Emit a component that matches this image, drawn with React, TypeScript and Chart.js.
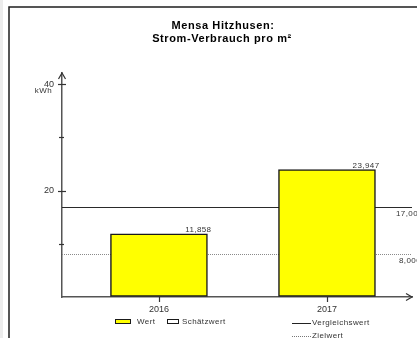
import React, { useEffect, useRef } from 'react';
import { Chart, registerables } from 'chart.js';
Chart.register(...registerables);

const categories = ['2016', '2017'];
const wertValues = [11.858, 23.947];
const valueLabels = ['11,858', '23,947'];
const refValues = [17, 8];
const refLabels = ['17,000', '8,000'];
const yTickValues = [0, 10, 20, 30, 40];
const yTickLabels = ['', '', '20', '', '40'];
const yUnit = 'kWh';
const titleLines = ['Mensa Hitzhusen:', 'Strom-Verbrauch pro m²'];
const legendLabels = ['Wert', 'Schätzwert', 'Vergleichswert', 'Zielwert'];

const FONT = '"Liberation Sans", Arial, sans-serif';

const decorPlugin = {
  id: 'decor',
  beforeDraw(chart: any) {
    const ctx = chart.ctx as CanvasRenderingContext2D;
    ctx.save();
    ctx.fillStyle = '#ffffff';
    ctx.fillRect(0, 0, chart.width, chart.height);
    ctx.fillStyle = '#ececec';
    ctx.fillRect(0, 0, 3, chart.height);
    ctx.strokeStyle = '#1e1e1e';
    ctx.lineWidth = 1.5;
    ctx.beginPath();
    ctx.moveTo(9, chart.height);
    ctx.lineTo(9, 7);
    ctx.lineTo(chart.width, 7);
    ctx.stroke();
    // title
    ctx.fillStyle = '#000';
    ctx.font = `bold 11px ${FONT}`;
    (ctx as any).letterSpacing = '0.6px';
    ctx.textAlign = 'center';
    ctx.textBaseline = 'alphabetic';
    ctx.fillText(titleLines[0], 223, 28.5);
    ctx.fillText(titleLines[1], 222, 42);
    ctx.restore();
  },
  beforeDatasetsDraw(chart: any) {
    const ctx = chart.ctx as CanvasRenderingContext2D;
    const y = chart.scales.y;
    const area = chart.chartArea;
    ctx.save();
    refValues.forEach((v, i) => {
      const py = Math.round(y.getPixelForValue(v)) + 0.5;
      ctx.beginPath();
      if (i === 0) {
        ctx.strokeStyle = '#2a2a2a';
        ctx.lineWidth = 1.2;
        ctx.setLineDash([]);
      } else {
        ctx.strokeStyle = '#8a8a8a';
        ctx.lineWidth = 1;
        ctx.setLineDash([1, 1]);
      }
      ctx.moveTo(area.left, py);
      ctx.lineTo(area.right, py);
      ctx.stroke();
      ctx.setLineDash([]);
      ctx.fillStyle = '#333';
      ctx.font = `8px ${FONT}`;
      (ctx as any).letterSpacing = '0.4px';
      ctx.textAlign = 'left';
      ctx.textBaseline = 'middle';
      ctx.fillText(refLabels[i], i === 0 ? 396 : 399, py + 6);
    });
    ctx.restore();
  },
  afterDatasetsDraw(chart: any) {
    const ctx = chart.ctx as CanvasRenderingContext2D;
    const ys = chart.scales.y;
    const xs = chart.scales.x;
    const area = chart.chartArea;
    ctx.save();
    // value labels
    const meta = chart.getDatasetMeta(0);
    ctx.fillStyle = '#333';
    ctx.font = `8px ${FONT}`;
    (ctx as any).letterSpacing = '0.4px';
    ctx.textAlign = 'right';
    ctx.textBaseline = 'alphabetic';
    meta.data.forEach((bar: any, i: number) => {
      ctx.fillText(valueLabels[i], bar.x + bar.width / 2 + 4, bar.y - 2);
    });
    // y ticks
    ctx.strokeStyle = '#333';
    ctx.lineWidth = 1.2;
    yTickValues.forEach((v, i) => {
      if (v === 0) return;
      const py = Math.round(ys.getPixelForValue(v)) + 0.5;
      const major = yTickLabels[i] !== '';
      ctx.beginPath();
      ctx.moveTo(area.left - (major ? 4 : 3), py);
      ctx.lineTo(area.left + (major ? 4 : 2), py);
      ctx.stroke();
    });
    // x ticks
    categories.forEach((_, i) => {
      const px = Math.round(xs.getPixelForValue(i)) + 0.5;
      ctx.beginPath();
      ctx.moveTo(px, area.bottom);
      ctx.lineTo(px, area.bottom + 5);
      ctx.stroke();
    });
    // arrows
    ctx.strokeStyle = '#333';
    ctx.lineWidth = 1.2;
    ctx.beginPath();
    ctx.moveTo(area.left - 3.5, area.top + 6);
    ctx.lineTo(area.left, area.top);
    ctx.lineTo(area.left + 3.5, area.top + 6);
    ctx.stroke();
    ctx.beginPath();
    ctx.moveTo(area.right - 6, area.bottom - 3.5);
    ctx.lineTo(area.right, area.bottom);
    ctx.lineTo(area.right - 6, area.bottom + 3.5);
    ctx.stroke();
    // unit
    ctx.fillStyle = '#333';
    ctx.font = `8px ${FONT}`;
    (ctx as any).letterSpacing = '0.4px';
    ctx.textAlign = 'right';
    ctx.textBaseline = 'middle';
    ctx.fillText(yUnit, 52, ys.getPixelForValue(40) + 7);
    // legend
    ctx.textAlign = 'left';
    ctx.lineWidth = 1;
    ctx.strokeStyle = '#1a1a1a';
    ctx.fillStyle = '#ffff00';
    ctx.fillRect(115.5, 319.5, 15, 4);
    ctx.strokeRect(115.5, 319.5, 15, 4);
    ctx.fillStyle = '#ffffff';
    ctx.fillRect(167.5, 319.5, 11, 4);
    ctx.strokeRect(167.5, 319.5, 11, 4);
    ctx.fillStyle = '#333';
    ctx.fillText(legendLabels[0], 137, 322);
    ctx.fillText(legendLabels[1], 182, 322);
    ctx.strokeStyle = '#222';
    ctx.beginPath();
    ctx.moveTo(292, 323.5);
    ctx.lineTo(311, 323.5);
    ctx.stroke();
    ctx.strokeStyle = '#777';
    ctx.setLineDash([1, 1]);
    ctx.beginPath();
    ctx.moveTo(292, 336.5);
    ctx.lineTo(311, 336.5);
    ctx.stroke();
    ctx.setLineDash([]);
    ctx.fillText(legendLabels[2], 312, 322.5);
    ctx.fillText(legendLabels[3], 312, 336);
    ctx.restore();
  },
};

export default function App() {
  const ref = useRef<HTMLCanvasElement>(null);
  useEffect(() => {
    document.body.style.margin = '0';
    const canvas = ref.current!;
    const chart = new Chart(canvas, {
      type: 'bar',
      data: {
        datasets: [
          {
            label: legendLabels[0],
            data: categories.map((_, i) => ({ x: i, y: wertValues[i] })) as any,
            backgroundColor: '#ffff00',
            borderColor: '#1a1a1a',
            borderWidth: 1.5,
            borderSkipped: false,
            barThickness: 97,
          },
        ],
      },
      options: {
        responsive: false,
        animation: false,
        devicePixelRatio: 1,
        layout: { padding: { left: 0, right: 5, top: 73, bottom: 0 } },
        plugins: {
          legend: { display: false },
          tooltip: { enabled: false },
          title: { display: false },
        },
        scales: {
          x: {
            type: 'linear',
            min: -0.577,
            max: 1.506,
            offset: false,
            afterBuildTicks: (s: any) => {
              s.ticks = categories.map((_, i) => ({ value: i }));
            },
            afterFit: (s: any) => {
              s.height = 41;
            },
            grid: { display: true, drawOnChartArea: false, drawTicks: true, tickLength: 5, color: 'rgba(0,0,0,0)' },
            border: { display: true, color: '#555', width: 1.5 },
            ticks: {
              callback: (v: any) => categories[v as number] ?? '',
              font: { family: FONT, size: 9 },
              color: '#333',
              padding: 2,
              maxRotation: 0,
              autoSkip: false,
            },
          },
          y: {
            type: 'linear',
            min: 0,
            max: 42.1,
            afterBuildTicks: (s: any) => {
              s.ticks = yTickValues.map((v) => ({ value: v }));
            },
            afterFit: (s: any) => {
              s.width = 62;
            },
            grid: { display: true, drawOnChartArea: false, drawTicks: true, tickLength: 4, color: 'rgba(0,0,0,0)' },
            border: { display: true, color: '#555', width: 1.5 },
            ticks: {
              callback: (v: any) => {
                const idx = yTickValues.indexOf(v as number);
                return idx >= 0 ? yTickLabels[idx] : '';
              },
              font: { family: FONT, size: 9 },
              color: '#333',
              padding: 4,
              autoSkip: false,
            },
          },
        },
      },
      plugins: [decorPlugin],
    });
    return () => chart.destroy();
  }, []);
  return <canvas ref={ref} width={417} height={338} style={{ display: 'block' }} />;
}
